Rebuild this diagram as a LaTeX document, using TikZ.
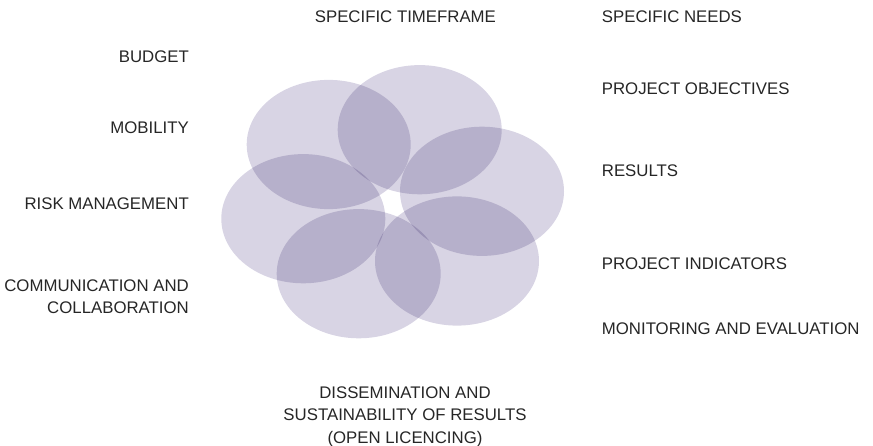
\documentclass[tikz,border=0pt]{standalone}
\usepackage{fontspec}
\setmainfont{Liberation Sans}
\begin{document}
\begin{tikzpicture}[x=1pt,y=-1pt,
  petal/.style={fill=petalc, draw=none, blend mode=multiply},
  lbl/.style={inner sep=0pt, font=\fontsize{16.8}{22.5}\selectfont, text=black!85},
  ]
\definecolor{petalc}{RGB}{216,212,228}
\useasboundingbox (0,0) rectangle (873,446);
% petals
\fill[petal] (328.7,144.5) ellipse [x radius=82, y radius=64.6];
\fill[petal] (419.7,129.7) ellipse [x radius=82, y radius=64.6];
\fill[petal] (482,191.3) ellipse [x radius=82, y radius=64.6];
\fill[petal] (457,261) ellipse [x radius=82, y radius=64.6];
\fill[petal] (358.7,273.7) ellipse [x radius=82, y radius=64.6];
\fill[petal] (303.3,218.7) ellipse [x radius=82, y radius=64.6];
% left labels
\node[lbl, anchor=base east] (budget) at (189,63) {BUDGET};
\node[lbl, anchor=base east] (mobility) at (189,134) {MOBILITY};
\node[lbl, anchor=base east] (risk) at (189,210) {RISK MANAGEMENT};
\node[lbl, anchor=base east, align=right] (comm) at (189,314) {COMMUNICATION AND\\COLLABORATION};
% top
\node[lbl, anchor=base] (time) at (405.4,22.7) {SPECIFIC TIMEFRAME};
% right labels
\node[lbl, anchor=base west] (needs) at (601.7,23) {SPECIFIC NEEDS};
\node[lbl, anchor=base west] (obj) at (601.7,95) {PROJECT OBJECTIVES};
\node[lbl, anchor=base west] (res) at (601.7,177) {RESULTS};
\node[lbl, anchor=base west] (ind) at (601.7,270) {PROJECT INDICATORS};
\node[lbl, anchor=base west] (mon) at (601.7,335) {MONITORING AND EVALUATION};
% bottom
\node[lbl, anchor=base, align=center] (diss) at (405,443) {DISSEMINATION AND\\SUSTAINABILITY OF RESULTS\\(OPEN LICENCING)};
\end{tikzpicture}
\end{document}
